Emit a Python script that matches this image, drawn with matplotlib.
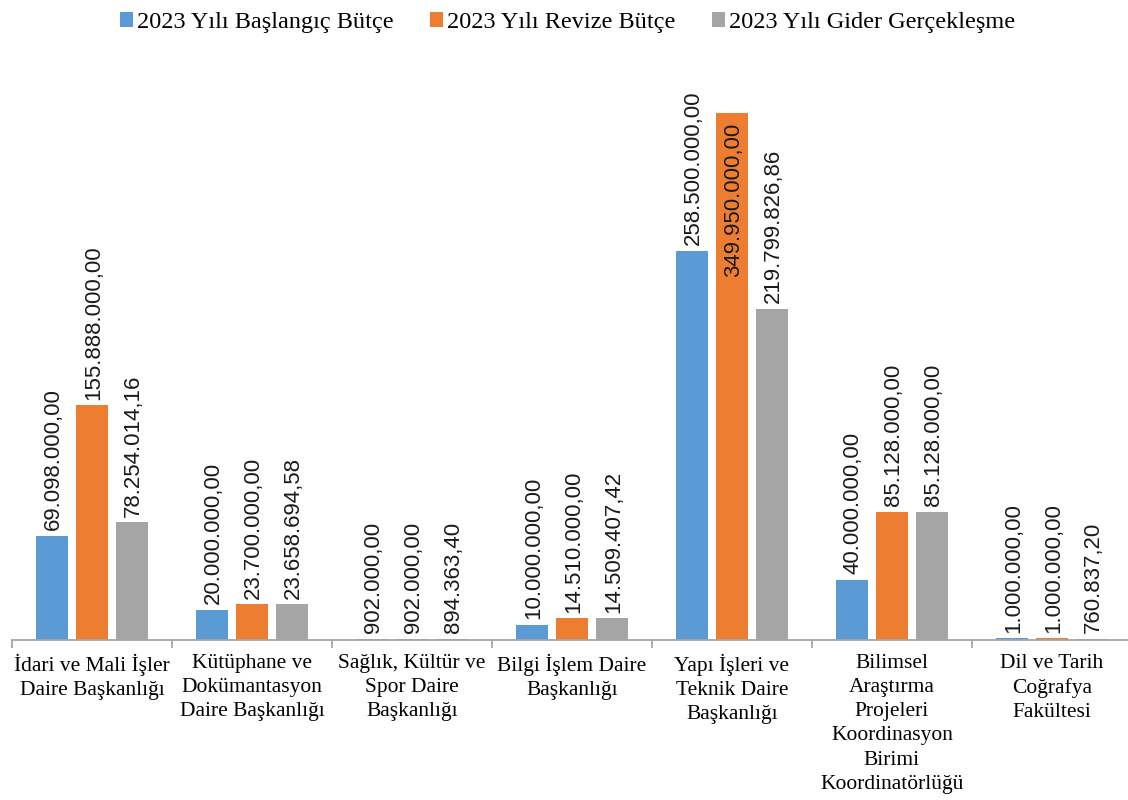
#!/usr/bin/env python3

import matplotlib
matplotlib.use('Agg')
import matplotlib.pyplot as plt
import numpy

categories = ['İdari ve Mali İşler\nDaire Başkanlığı',
              'Kütüphane ve\nDokümantasyon\nDaire Başkanlığı',
              'Sağlık, Kültür ve\nSpor Daire\nBaşkanlığı',
              'Bilgi İşlem Daire\nBaşkanlığı',
              'Yapı İşleri ve\nTeknik Daire\nBaşkanlığı',
              'Bilimsel\nAraştırma\nProjeleri\nKoordinasyon\nBirimi\nKoordinatörlüğü',
              'Dil ve Tarih\nCoğrafya\nFakültesi']

series_names = ['2023 Yılı Başlangıç Bütçe',
                '2023 Yılı Revize Bütçe',
                '2023 Yılı Gider Gerçekleşme']

baslangic = [69098000.00, 20000000.00, 902000.00, 10000000.00,
             258500000.00, 40000000.00, 1000000.00]
revize = [155888000.00, 23700000.00, 902000.00, 14510000.00,
          349950000.00, 85128000.00, 1000000.00]
gider = [78254014.16, 23658694.58, 894363.40, 14509407.42,
         219799826.86, 85128000.00, 760837.20]

colors = ['#5B9BD5', '#ED7D31', '#A5A5A5']


def fmt_tr(v):
  # turkish number format: 1.234.567,89
  s = '{0:,.2f}'.format(v)
  return s.replace(',', 'X').replace('.', ',').replace('X', '.')


def main():
  fig = plt.figure(figsize=(11.28, 8), dpi=100)
  ax = fig.add_axes([12/1128, 0.2, 1120/1128, 0.725])

  x = numpy.arange(len(categories))
  ytop = 385e6
  ax.set_ylim(0, ytop)
  ax.set_xlim(-0.5, len(categories) - 0.5)

  for i, vals in enumerate([baslangic, revize, gider]):
    pos = x + (i - 1) * 0.25
    ax.bar(pos, vals, width=0.2, color=colors[i], label=series_names[i])
    for px, v in zip(pos, vals):
      if v > 0.85 * ytop:
        ax.annotate(fmt_tr(v), (px, v), xytext=(1, -7), textcoords='offset points',
                    rotation=90, ha='center', va='top',
                    fontsize=16, family='Liberation Sans', color='#1a1a1a')
      else:
        ax.annotate(fmt_tr(v), (px, v), xytext=(1, 4), textcoords='offset points',
                    rotation=90, ha='center', va='bottom',
                    fontsize=16, family='Liberation Sans', color='#1a1a1a')

  for s in ['top', 'right', 'left']:
    ax.spines[s].set_visible(False)
  ax.spines['bottom'].set_color('#A6A6A6')
  ax.spines['bottom'].set_linewidth(1.3)
  ax.set_yticks([])

  ax.set_xticks(x)
  ax.set_xticklabels(categories, family='Liberation Serif', fontsize=15.5,
                     linespacing=1.37)
  ax.tick_params(axis='x', which='major', length=0, pad=10)
  ax.set_xticks(numpy.arange(len(categories) + 1) - 0.5, minor=True)
  ax.tick_params(axis='x', which='minor', length=6, width=1.3, color='#A6A6A6')

  fig.legend(loc='upper center', bbox_to_anchor=(0.503, 1.012), ncol=3,
             frameon=False, prop={'family': 'Liberation Serif', 'size': 17.5},
             handlelength=0.55, handleheight=0.55, handletextpad=0.15,
             columnspacing=1.5)

  fig.savefig('out.png', dpi=100)


if __name__ == '__main__':
  main()
